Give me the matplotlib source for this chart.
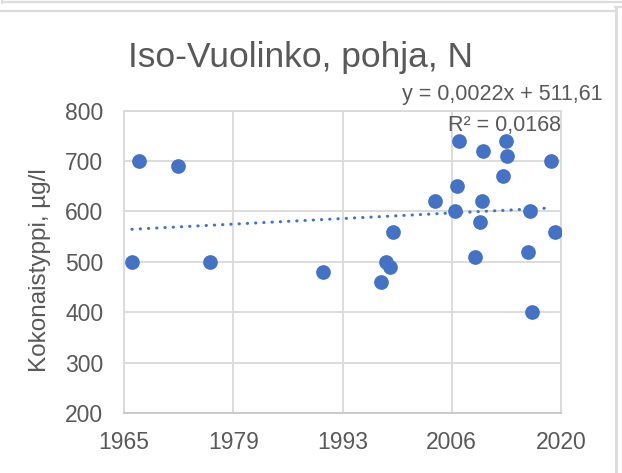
import matplotlib
matplotlib.use("Agg")
import matplotlib.pyplot as plt
from matplotlib.lines import Line2D
import numpy as np

# ---- data (decimal years, total nitrogen µg/l) ----
years = [1966.0, 1966.9, 1971.8, 1975.8, 1990.0, 1997.4, 1998.0, 1998.5, 1998.9,
         2004.1, 2006.7, 2006.9, 2007.2, 2009.2, 2009.8, 2010.0, 2010.2, 2012.7,
         2013.1, 2013.2, 2015.8, 2016.1, 2016.4, 2018.8, 2019.2]
values = [500, 700, 690, 500, 480, 460, 500, 490, 560,
          620, 600, 650, 740, 510, 580, 620, 720, 670,
          740, 710, 520, 600, 400, 700, 560]
x_ticks = [1965, 1978.75, 1992.5, 2006.25, 2020]
x_tick_labels = ["1965", "1979", "1993", "2006", "2020"]
y_ticks = [200, 300, 400, 500, 600, 700, 800]
# Excel trendline (x in Excel date serial numbers)
trend_slope = 0.0022
trend_intercept = 511.61
title = "Iso-Vuolinko, pohja, N"
ylabel = "Kokonaistyppi, µg/l"
eq_text = "y = 0,0022x + 511,61"
r2_text = "R² = 0,0168"

W, H = 622, 473
fig = plt.figure(figsize=(W / 100, H / 100), dpi=100)
fig.patch.set_facecolor("white")

font = "Liberation Sans"
txt = "#595959"
grid = "#d9d9d9"
blue = "#4472C4"

L, R, T, B = 124, 561, 110.7, 413
ax = fig.add_axes([L / W, 1 - B / H, (R - L) / W, (B - T) / H])
ax.set_xlim(1965, 2020)
ax.set_ylim(200, 800)
ax.set_xticks(x_ticks)
ax.set_xticklabels(x_tick_labels)
ax.set_yticks(y_ticks)
ax.grid(True, color=grid, linewidth=1.3)
ax.set_axisbelow(True)
for s in ax.spines.values():
    s.set_color(grid)
    s.set_linewidth(1.3)
ax.spines["bottom"].set_color("#c8c8c8")
ax.tick_params(length=0, labelsize=16.5, labelcolor=txt)
ax.tick_params(axis="x", pad=13)
ax.tick_params(axis="y", pad=15)
for lab in ax.get_xticklabels() + ax.get_yticklabels():
    lab.set_fontfamily(font)

ax.scatter(years, values, s=112, color=blue, zorder=3, linewidths=0)

# trendline from the Excel equation, over the data range
def to_serial(y):
    return (np.asarray(y) - 1900) * 365.25 + 1

xs = np.linspace(min(years), max(years) - 0.8, 200)
ys = trend_slope * to_serial(xs) + trend_intercept
ax.plot(xs, ys, color=blue, linewidth=2.2, linestyle=(0, (0.1, 2.6)),
        dash_capstyle="round", zorder=2)

fig.text(300 / W, 1 - 66.7 / H, title, fontsize=25.5, color=txt, family=font,
         ha="center", va="baseline")
fig.text(603 / W, 1 - 100 / H, eq_text, fontsize=15.5, color=txt, family=font,
         ha="right", va="baseline")
fig.text(561 / W, 1 - 130.5 / H, r2_text, fontsize=15.5, color=txt, family=font,
         ha="right", va="baseline")
fig.text(40 / W, 1 - 270 / H, ylabel, fontsize=17.5, color=txt, family=font,
         ha="center", va="center", rotation=90)

# window frame decorations
def hline(y, x0, x1, c="#dcdcdc", lw=1.6):
    fig.add_artist(Line2D([x0 / W, x1 / W], [1 - y / H, 1 - y / H], color=c, lw=lw))

def vline(x, y0, y1, c="#dcdcdc", lw=1.6):
    fig.add_artist(Line2D([x / W, x / W], [1 - y0 / H, 1 - y1 / H], color=c, lw=lw))

hline(1.7, 3, 622)
vline(1.5, 0, 3)
hline(11, 0, 614)
vline(615.7, 7, 473, lw=2.2)
hline(7, 615, 622)

fig.savefig("out.png", dpi=100)
